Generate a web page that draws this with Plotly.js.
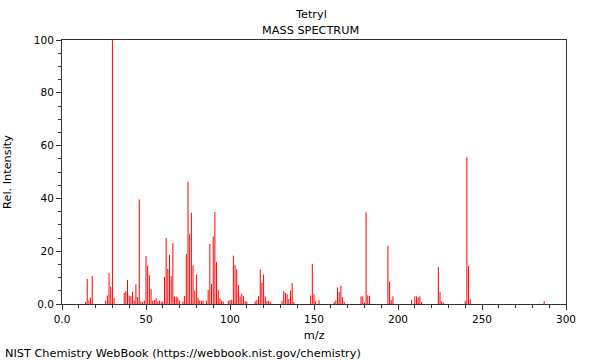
<!DOCTYPE html>
<html>
<head>
<meta charset="utf-8">
<script src="https://cdn.plot.ly/plotly-3.0.1.min.js"></script>
<style>
  html, body { margin: 0; padding: 0; background: #fff; }
  #chart { width: 600px; height: 360px; }
</style>
</head>
<body>
<div id="chart"></div>
<script>
// m/z values and relative intensities
const mz = [14,15,16,17,18,26,27,28,29,30,31,37,38,39,40,41,42,43,44,45,46,47,48,49,50,51,52,53,54,55,56,57,58,59,60,
  61,62,63,64,65,66,67,68,69,70,72,73,74,75,76,77,78,79,80,81,82,83,84,86,87,88,89,90,91,92,93,94,95,96,
  99,100,101,102,103,104,105,106,107,108,109,110,115,116,117,118,119,120,121,122,123,124,
  131,132,133,134,135,136,137,138,148,149,150,151,153,162,163,164,165,166,167,168,
  178,179,180,181,182,183,194,195,196,197,208,210,211,212,213,214,224,225,226,227,240,241,242,243,287];
const intensity = [0.8,9.5,1.3,2.4,10.6,1.3,3.2,11.7,6.6,100,2.3,4.2,4.9,9.1,3.2,3.0,4.7,1.3,7.4,2.7,39.6,1.0,0.8,1.3,18.1,14.5,10.9,5.6,1.3,1.5,2.2,1.0,1.3,0.8,0.9,
  10.3,25.0,13.3,18.6,10.6,23.1,2.8,2.8,2.4,1.3,1.0,3.0,18.9,46.3,26.5,34.6,14.6,5.1,11.2,2.4,1.4,1.2,1.3,1.3,5.3,22.8,7.6,25.6,34.8,15.9,5.4,2.2,1.3,1.0,
  1.2,1.5,1.5,18.3,14.8,13.1,7.2,2.8,3.8,3.0,1.1,0.9,1.0,1.5,3.0,13.1,8.1,11.2,2.8,1.1,1.2,0.8,
  1.1,4.9,4.2,3.7,1.9,5.1,7.9,0.8,3.2,15.2,3.7,1.1,1.4,0.8,1.4,6.3,4.5,6.9,2.6,0.8,
  2.9,2.9,0.6,34.7,3.3,3.0,22.1,8.5,1.5,2.9,1.5,2.9,2.9,2.5,2.9,0.7,14.0,4.5,1.0,0.5,1.1,55.6,14.4,1.8,1.1];

const xTickVals = [0, 50, 100, 150, 200, 250, 300];
const xTickText = ["0.0", "50", "100", "150", "200", "250", "300"];
const yTickVals = [0, 20, 40, 60, 80, 100];
const yTickText = ["0.0", "20", "40", "60", "80", "100"];

// stick segments built from the data arrays
const sx = [], sy = [];
mz.forEach((m, i) => { sx.push(m, m, null); sy.push(0, intensity[i], null); });

const font = "DejaVu Sans, sans-serif";
const axisColor = "#333";
const textSize = 11.3;

const trace = {
  type: "scatter", mode: "lines", x: sx, y: sy,
  line: { color: "rgb(255,0,0)", width: 1 },
  hoverinfo: "skip", showlegend: false
};

const layout = {
  width: 600, height: 360,
  margin: { l: 62, r: 34, t: 40, b: 56 },
  paper_bgcolor: "#fff", plot_bgcolor: "#fff",
  font: { family: font, size: textSize, color: "#000" },
  showlegend: false,
  xaxis: {
    range: [0, 300], showgrid: false, zeroline: false,
    showline: true, linecolor: axisColor, linewidth: 1, mirror: true,
    ticks: "outside", ticklen: 5, tickcolor: axisColor, tickwidth: 1,
    tickvals: xTickVals, ticktext: xTickText,
    tickfont: { family: font, size: 10.5, color: "#000" },
    minor: { dtick: 10, ticks: "outside", ticklen: 3, tickcolor: axisColor, tickwidth: 1, showgrid: false },
    title: { text: "m/z", font: { family: font, size: textSize, color: "#000" }, standoff: 7 }
  },
  yaxis: {
    range: [0, 100], showgrid: false, zeroline: false,
    showline: true, linecolor: axisColor, linewidth: 1, mirror: true,
    ticks: "outside", ticklen: 5, tickcolor: axisColor, tickwidth: 1,
    tickvals: yTickVals, ticktext: yTickText,
    tickfont: { family: font, size: 10.5, color: "#000" },
    minor: { dtick: 5, ticks: "outside", ticklen: 3, tickcolor: axisColor, tickwidth: 1, showgrid: false },
    title: { text: "Rel. Intensity", font: { family: font, size: textSize, color: "#000" }, standoff: 19 }
  },
  annotations: [
    { text: "Tetryl", xref: "paper", yref: "paper", x: 0.494, y: 1 + 26/264, xanchor: "center", yanchor: "middle",
      showarrow: false, font: { family: font, size: textSize, color: "#000" } },
    { text: "MASS SPECTRUM", xref: "paper", yref: "paper", x: 0.494, y: 1 + 10/264, xanchor: "center", yanchor: "middle",
      showarrow: false, font: { family: font, size: textSize, color: "#000" } },
    { text: "NIST Chemistry WebBook (https://webbook.nist.gov/chemistry)", xref: "paper", yref: "paper",
      x: -59/504, y: -49/264, xanchor: "left", yanchor: "middle",
      showarrow: false, font: { family: font, size: textSize, color: "#000" } }
  ]
};

Plotly.newPlot("chart", [trace], layout, { staticPlot: true, displayModeBar: false });
</script>
</body>
</html>
